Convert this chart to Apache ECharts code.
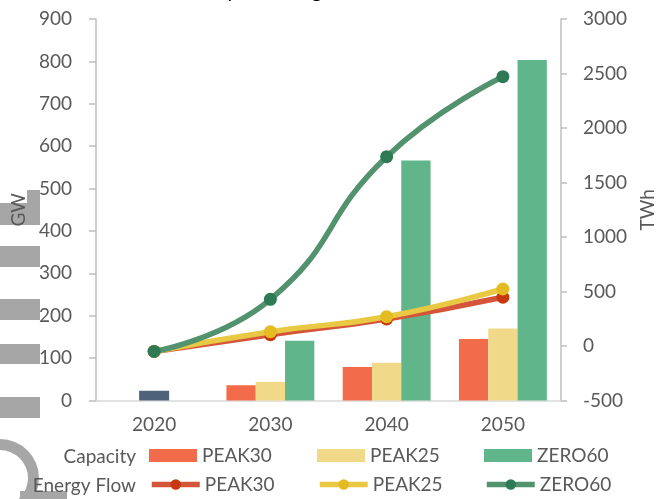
<!DOCTYPE html>
<html>
<head>
<meta charset="utf-8">
<script src="https://cdn.jsdelivr.net/npm/echarts@6/dist/echarts.min.js"></script>
<style>
  html, body { margin: 0; padding: 0; background: #ffffff; }
  #chart { width: 665px; height: 499px; }
</style>
</head>
<body>
<div id="chart"></div>
<script>
// Milestone years
const years = ['2020', '2030', '2040', '2050'];

// Installed capacity (GW), left axis
const baseCapacity = [23, null, null, null];
const capPeak30 = [null, 36, 79, 145];
const capPeak25 = [null, 44, 89, 170];
const capZero60 = [null, 141, 566, 803];

// Energy flow (TWh), right axis
const flowPeak30 = [-50, 104, 248, 447];
const flowPeak25 = [-50, 131, 269, 523];
const flowZero60 = [-50, 428, 1737, 2471];

const scenarios = ['PEAK30', 'PEAK25', 'ZERO60'];
const gwTicks = { min: 0, max: 900, step: 100 };
const twhTicks = { min: -500, max: 3000, step: 500 };

const FONT = 'Lato';
const GREY_TEXT = '#595959';
const barColors = ['#f26b4a', '#f0da8a', '#60b58a'];
const lineColors = ['#d4553a', '#e9c843', '#52926f'];
const markerColors = ['#c7380f', '#e4bc22', '#2e7a55'];

const chart = echarts.init(document.getElementById('chart'), null, { renderer: 'canvas' });

const capSeries = [capPeak30, capPeak25, capZero60];
const flowSeries = [flowPeak30, flowPeak25, flowZero60];

const series = [
  {
    name: 'Base 2020',
    type: 'bar',
    xAxisIndex: 1,
    yAxisIndex: 0,
    data: baseCapacity,
    barWidth: 30,
    itemStyle: { color: '#4e6379' },
    silent: true
  }
];
scenarios.forEach((s, i) => {
  series.push({
    name: s,
    type: 'bar',
    xAxisIndex: 0,
    yAxisIndex: 0,
    data: capSeries[i],
    barWidth: 29.3,
    barGap: '0%',
    itemStyle: { color: barColors[i] }
  });
});
scenarios.forEach((s, i) => {
  series.push({
    name: s + ' flow',
    type: 'line',
    xAxisIndex: 0,
    yAxisIndex: 1,
    data: flowSeries[i],
    smooth: 0.5,
    symbol: 'circle',
    symbolSize: 13,
    lineStyle: { width: 5.5, color: lineColors[i] },
    itemStyle: { color: markerColors[i] },
    z: 3 + i
  });
});

// one legend per entry so each column lines up at a fixed x
const legendColumns = [149, 317, 484];
const legendText = { fontFamily: FONT, fontSize: 19, color: GREY_TEXT };
const legends = [];
scenarios.forEach((s, i) => {
  legends.push({
    data: [s],
    left: legendColumns[i],
    top: 446,
    padding: 0,
    itemWidth: 48,
    itemHeight: 13,
    icon: 'rect',
    selectedMode: false,
    textStyle: legendText
  });
  legends.push({
    data: [s + ' flow'],
    left: legendColumns[i],
    top: 475,
    padding: 0,
    itemWidth: 48,
    itemHeight: 13,
    selectedMode: false,
    lineStyle: { width: 5.5 },
    formatter: name => name.split(' ')[0],
    textStyle: legendText
  });
});

const option = {
  animation: false,
  backgroundColor: '#ffffff',
  textStyle: { fontFamily: FONT },
  grid: { left: 96, right: 101, top: 19, bottom: 98.5, containLabel: false },
  graphic: [
    // chart heading, mostly above the canvas edge
    { type: 'text', style: { x: 188, y: 2, verticalAlign: 'bottom', text: 'Pumped Storage in China', font: '20px ' + FONT, fill: '#000000' } },
    // legend row captions
    { type: 'text', style: { x: 136, y: 456.5, align: 'right', verticalAlign: 'middle', text: 'Capacity', font: '19px ' + FONT, fill: GREY_TEXT } },
    { type: 'text', style: { x: 136, y: 486, align: 'right', verticalAlign: 'middle', text: 'Energy Flow', font: '19px ' + FONT, fill: GREY_TEXT } },
    // grey decorative shapes along the left edge
    { type: 'polygon', shape: { points: [[0, 203], [27, 203], [27, 190], [40, 190], [40, 225], [0, 225]] }, style: { fill: '#a6a6a6' }, z: -1 },
    { type: 'rect', shape: { x: 0, y: 246, width: 40, height: 21 }, style: { fill: '#a6a6a6' }, z: -1 },
    { type: 'rect', shape: { x: 0, y: 299, width: 40, height: 21 }, style: { fill: '#a6a6a6' }, z: -1 },
    { type: 'rect', shape: { x: 0, y: 344, width: 40, height: 20 }, style: { fill: '#a6a6a6' }, z: -1 },
    { type: 'rect', shape: { x: 0, y: 397, width: 40, height: 21 }, style: { fill: '#a6a6a6' }, z: -1 },
    { type: 'sector', shape: { cx: 0, cy: 478, r: 39, r0: 28, startAngle: -Math.PI / 2, endAngle: Math.PI / 2 }, style: { fill: '#a6a6a6' }, z: -1 },
    { type: 'rect', shape: { x: 20, y: 491, width: 47, height: 8 }, style: { fill: '#a6a6a6' }, z: -1 }
  ],
  legend: legends,
  xAxis: [
    {
      type: 'category',
      data: years,
      axisLine: { show: true, lineStyle: { color: '#d9d9d9', width: 1.5 } },
      axisTick: { show: false },
      axisLabel: { fontFamily: FONT, fontSize: 19, color: GREY_TEXT, margin: 15 },
      splitLine: { show: false }
    },
    {
      type: 'category',
      data: years,
      show: false
    }
  ],
  yAxis: [
    {
      type: 'value',
      position: 'left',
      min: gwTicks.min,
      max: gwTicks.max,
      interval: gwTicks.step,
      name: 'GW',
      nameLocation: 'middle',
      nameGap: 66,
      nameTextStyle: { fontFamily: FONT, fontSize: 19, color: GREY_TEXT },
      axisLine: { show: true, lineStyle: { color: '#bfbfbf', width: 1.5 } },
      axisTick: { show: true, length: 7, lineStyle: { color: '#bfbfbf', width: 1.5 } },
      axisLabel: { fontFamily: FONT, fontSize: 19, color: GREY_TEXT, margin: 24 },
      splitLine: { show: false }
    },
    {
      type: 'value',
      position: 'right',
      min: twhTicks.min,
      max: twhTicks.max,
      interval: twhTicks.step,
      name: 'TWh',
      nameLocation: 'middle',
      nameGap: 67,
      nameTextStyle: { fontFamily: FONT, fontSize: 19, color: GREY_TEXT },
      axisLine: { show: true, lineStyle: { color: '#bfbfbf', width: 1.5 } },
      axisTick: { show: true, length: 6, lineStyle: { color: '#bfbfbf', width: 1.5 } },
      axisLabel: { fontFamily: FONT, fontSize: 19, color: GREY_TEXT, margin: 22, formatter: v => String(v) },
      splitLine: { show: false }
    }
  ],
  series: series
};

chart.setOption(option);
</script>
</body>
</html>
